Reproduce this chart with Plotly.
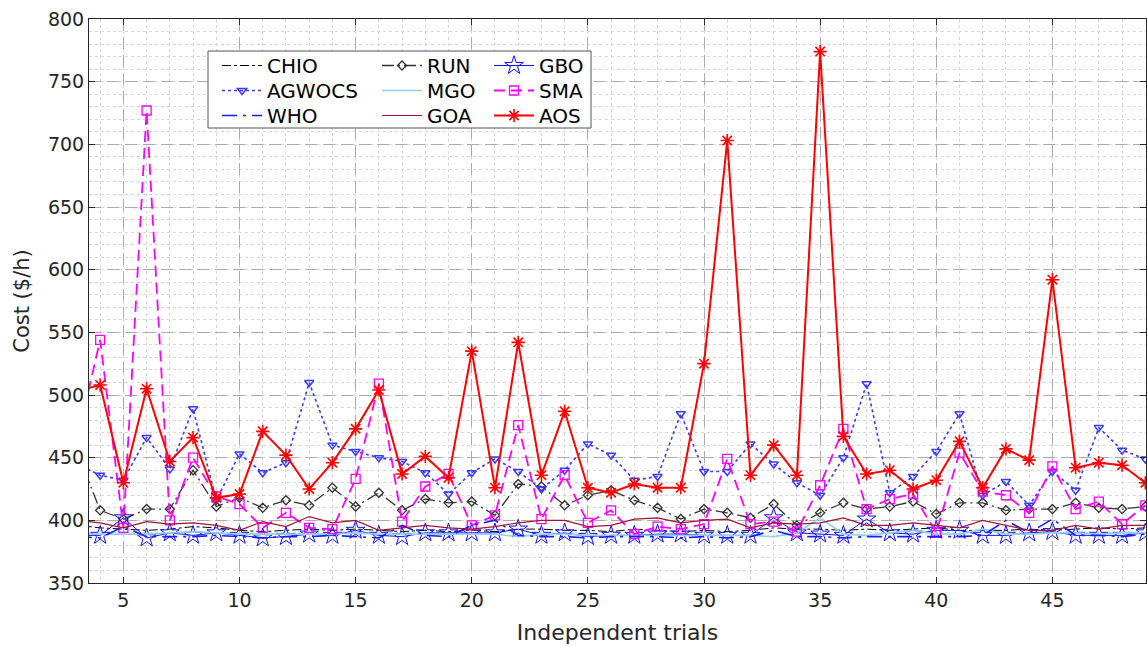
import plotly.graph_objects as go

trials = list(range(3, 50))

CHIO = [396, 394, 393, 392, 393, 395, 394, 392, 391, 392, 393, 392, 393, 392, 391, 392, 391, 392, 391, 393,
        393, 392, 392, 391, 393, 392, 391, 392, 391, 392, 394, 393, 393, 392, 393, 392, 393, 394, 392, 392,
        392, 393, 392, 393, 394, 393, 394]
RUN = [455, 408, 401, 409, 409, 440, 411, 418, 410, 416, 412, 426, 411, 422, 408, 417, 414, 415, 404, 429,
       427, 412, 420, 424, 416, 410, 401, 409, 406, 402, 413, 396, 406, 414, 409, 411, 415, 405, 414, 414,
       408, 409, 409, 414, 410, 409, 411]
GBO = [388, 388, 402, 386, 390, 388, 390, 388, 386, 387, 389, 388, 392, 388, 387, 390, 390, 390, 390, 393,
       388, 390, 387, 388, 388, 389, 389, 388, 388, 388, 402, 390, 389, 388, 401, 390, 389, 392, 392, 388,
       388, 390, 391, 388, 388, 388, 390]
AGWOCS = [445, 436, 432, 466, 441, 489, 416, 453, 438, 446, 510, 460, 455, 450, 447, 438, 421, 438, 449, 439,
          425, 440, 461, 452, 432, 435, 485, 439, 439, 461, 445, 430, 420, 450, 509, 422, 435, 455, 485, 420,
          431, 412, 439, 424, 474, 456, 449]
MGO = [389, 389, 389, 389, 390, 391, 390, 389, 389, 389, 389, 389, 390, 389, 389, 389, 389, 389, 389, 387,
       389, 389, 388, 388, 388, 388, 388, 388, 388, 388, 387, 390, 402, 389, 388, 390, 392, 389, 389, 393,
       389, 389, 390, 390, 389, 390, 390]
SMA = [463, 544, 394, 727, 400, 450, 419, 413, 394, 406, 394, 393, 433, 509, 399, 427, 437, 396, 404, 476,
       401, 436, 398, 408, 389, 395, 393, 397, 449, 397, 399, 391, 428, 473, 409, 417, 421, 390, 454, 423,
       420, 406, 443, 409, 415, 397, 412]
WHO = [387, 386, 395, 387, 387, 387, 388, 387, 386, 387, 387, 388, 387, 386, 396, 388, 387, 396, 400, 388,
       387, 387, 386, 387, 387, 387, 386, 387, 386, 387, 392, 387, 387, 386, 387, 387, 387, 387, 387, 388,
       400, 390, 401, 388, 388, 387, 389]
GOA = [400, 398, 394, 399, 397, 398, 396, 392, 399, 395, 403, 398, 400, 392, 394, 396, 394, 393, 395, 398,
       400, 400, 395, 396, 401, 402, 398, 400, 401, 394, 398, 397, 398, 402, 396, 396, 398, 396, 394, 400,
       396, 392, 392, 396, 393, 396, 396]
AOS = [503, 508, 430, 505, 447, 466, 418, 421, 471, 452, 425, 446, 473, 504, 437, 451, 434, 535, 426, 542,
       436, 487, 426, 422, 429, 426, 426, 525, 703, 436, 460, 436, 774, 467, 437, 440, 425, 432, 463, 426,
       457, 448, 592, 442, 446, 444, 430]

x_range = [3.52, 49.03]
y_range = [350, 800]
x_ticks = [5, 10, 15, 20, 25, 30, 35, 40, 45]
y_ticks = [350, 400, 450, 500, 550, 600, 650, 700, 750, 800]

FONT = "DejaVu Sans, Liberation Sans, Arial, sans-serif"
TXT = "#262626"

# screen-pixel helpers (plot area spans x 89..1146, y 19..583 in the window)
def px2paper_x(px):
    return (px - 89) / (1146 - 89)

def py2paper_y(py):
    return (583 - py) / (583 - 19)

fig = go.Figure()

# legend slots: (text-left px, row-center px)
col_x = [267, 427, 539]
row_y = [65, 90, 115]
slot = 0

def add(name, y, color, dash, width, col, row, symbol=None, msize=8, mlw=1.0):
    global slot
    slot += 1
    key = "legend" if slot == 1 else f"legend{slot}"
    mode = "lines+markers" if symbol else "lines"
    kw = {}
    if symbol:
        kw["marker"] = dict(symbol=symbol, size=msize, color=color,
                            line=dict(color=color, width=mlw))
    fig.add_trace(go.Scatter(x=trials, y=y, name=name, mode=mode,
                             line=dict(color=color, dash=dash, width=width),
                             legend=key, **kw))
    fig.update_layout({key: dict(bgcolor="rgba(0,0,0,0)", borderwidth=0,
                                 font=dict(family=FONT, size=20, color="#000000"),
                                 xanchor="left", yanchor="top", orientation="v", itemwidth=40,
                                 x=px2paper_x(col_x[col] - 50), y=py2paper_y(row_y[row] - 19))})

add("CHIO", CHIO, "#000000", "dashdot", 1.0, 0, 0)
add("RUN", RUN, "#333333", "12px,4px,2px,4px", 1.3, 1, 0, "diamond-open", 7, 1.3)
add("GBO", GBO, "#1010ff", "solid", 1.0, 2, 0, "star-open", 14, 1.0)
add("AGWOCS", AGWOCS, "#3a3aff", "dot", 1.6, 0, 1, "triangle-down-open", 8, 1.5)
add("MGO", MGO, "#8fd0ee", "solid", 1.6, 1, 1)
add("SMA", SMA, "#ff00ff", "11px,6px", 1.8, 2, 1, "square-open", 9, 1.3)
add("WHO", WHO, "#1a1aff", "longdashdot", 1.6, 0, 2)
add("GOA", GOA, "#a2142f", "solid", 1.2, 1, 2)
add("AOS", AOS, "#ff0000", "solid", 2.0, 2, 2, "asterisk-open", 11, 1.6)

fig.add_shape(type="rect", xref="paper", yref="paper",
              x0=px2paper_x(208), x1=px2paper_x(591), y0=py2paper_y(128), y1=py2paper_y(51),
              fillcolor="white", line=dict(color="#555555", width=1), layer="above")

axis_common = dict(showline=True, linecolor=TXT, linewidth=1, mirror="ticks", ticks="inside", ticklen=6,
                   tickcolor=TXT, tickfont=dict(family=FONT, size=19, color=TXT), automargin=False,
                   ticklabeloverflow="allow",
                   showgrid=True, gridcolor="#ababab", griddash="12px,6px", gridwidth=1, zeroline=False)

fig.update_xaxes(range=x_range, tickvals=x_ticks,
                 title=dict(text="Independent trials", font=dict(family=FONT, size=22, color=TXT), standoff=14),
                 minor=dict(dtick=1, tick0=0, showgrid=True, gridcolor="#d8d8d8", griddash="dot", ticks=""),
                 **axis_common)
fig.update_yaxes(range=y_range, tickvals=y_ticks,
                 title=dict(text="Cost ($/h)", font=dict(family=FONT, size=21, color=TXT), standoff=12),
                 minor=dict(dtick=10, tick0=0, showgrid=True, gridcolor="#d8d8d8", griddash="dot", ticks=""),
                 **axis_common)

fig.update_layout(width=1147, height=646, margin=dict(l=89, r=1, t=19, b=63),
                  paper_bgcolor="white", plot_bgcolor="white",
                  font=dict(family=FONT, color=TXT), showlegend=True)

# remove the browser's default 8px page margin so the figure fills the window exactly
fig.write_html("out.html", config={"displayModeBar": False},
               post_script="document.body.style.margin='0';document.body.style.overflow='hidden';")
